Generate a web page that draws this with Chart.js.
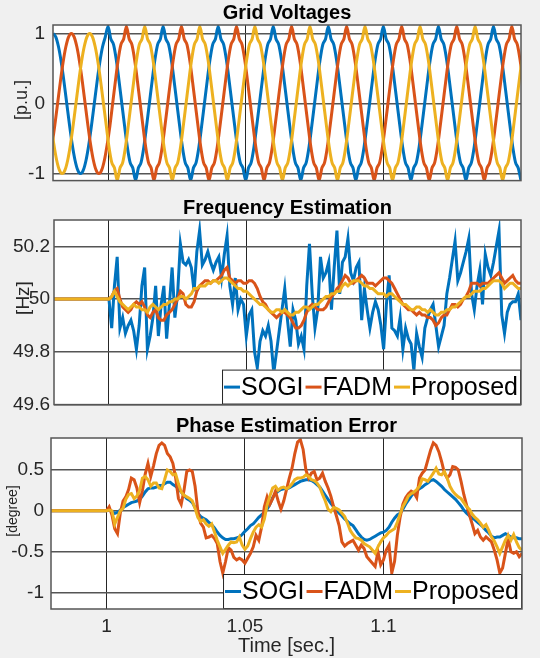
<!DOCTYPE html>
<html>
<head>
<meta charset="utf-8">
<script src="https://cdn.jsdelivr.net/npm/chart.js@4.4.1/dist/chart.umd.min.js"></script>
<style>
  body { margin: 0; background: #f0f0f0; width: 540px; height: 658px; overflow: hidden; position: relative; }
  canvas { position: absolute; left: 0; }
</style>
</head>
<body>
<canvas id="volt" width="540" height="200" style="top:0px"></canvas>
<canvas id="freq" width="540" height="225" style="top:195px"></canvas>
<canvas id="phase" width="540" height="248" style="top:410px"></canvas>
<script>
// ticks
const xTicks = [1, 1.05, 1.1];
const voltTicks = [-1, 0, 1];
const freqTicks = [49.6, 49.8, 50, 50.2];
const phaseTicks = [-1, -0.5, 0, 0.5];
const methods = ['SOGI', 'FADM', 'Proposed'];

// grid voltages, sampled every 1 ms, each phase has its own start time
const voltStep = 0.001;
const voltStartA = 0.98, voltStartB = 0.979667, voltStartC = 0.979333;
const voltA = [
  1, 0.951, 0.809, 0.588, 0.309, 0, -0.309, -0.588, -0.809, -0.951, -1, -0.951, -0.809, -0.588, -0.309, 0, 0.309, 0.588, 0.809, 0.951,
  1.1, 0.92, 0.84, 0.62, 0.32, 0, -0.32, -0.62, -0.84, -0.92, -1.1, -0.92, -0.84, -0.62, -0.32, 0, 0.32, 0.62, 0.84, 0.92,
  1.1, 0.92, 0.84, 0.62, 0.32, 0, -0.32, -0.62, -0.84, -0.92, -1.1, -0.92, -0.84, -0.62, -0.32, 0, 0.32, 0.62, 0.84, 0.92,
  1.1, 0.92, 0.84, 0.62, 0.32, 0, -0.32, -0.62, -0.84, -0.92, -1.1, -0.92, -0.84, -0.62, -0.32, 0, 0.32, 0.62, 0.84, 0.92,
  1.1, 0.92, 0.84, 0.62, 0.32, 0, -0.32, -0.62, -0.84, -0.92, -1.1, -0.92, -0.84, -0.62, -0.32, 0, 0.32, 0.62, 0.84, 0.92,
  1.1, 0.92, 0.84, 0.62, 0.32, 0, -0.32, -0.62, -0.84, -0.92, -1.1, -0.92, -0.84, -0.62, -0.32, 0, 0.32, 0.62, 0.84, 0.92,
  1.1, 0.92, 0.84, 0.62, 0.32, 0, -0.32, -0.62, -0.84, -0.92, -1.1, -0.92, -0.84, -0.62, -0.32, 0, 0.32, 0.62, 0.84, 0.92,
  1.1, 0.92, 0.84, 0.62, 0.32, 0, -0.32, -0.62, -0.84, -0.92, -1.1, -0.92, -0.84, -0.62, -0.32, 0, 0.32, 0.62, 0.84, 0.92,
  1.1, 0.92, 0.84, 0.62, 0.32, 0, -0.32, -0.62, -0.84, -0.92, -1.1
];
const voltB = [
  -0.588, -0.309, 0, 0.309, 0.588, 0.809, 0.951,
  1, 0.951, 0.809, 0.588, 0.309, 0, -0.309, -0.588, -0.809, -0.951, -1, -0.951, -0.809, -0.588,
  -0.32, 0, 0.32, 0.62, 0.84, 0.92,
  1.1, 0.92, 0.84, 0.62, 0.32, 0, -0.32, -0.62, -0.84, -0.92, -1.1, -0.92, -0.84, -0.62, -0.32, 0, 0.32, 0.62, 0.84, 0.92,
  1.1, 0.92, 0.84, 0.62, 0.32, 0, -0.32, -0.62, -0.84, -0.92, -1.1, -0.92, -0.84, -0.62, -0.32, 0, 0.32, 0.62, 0.84, 0.92,
  1.1, 0.92, 0.84, 0.62, 0.32, 0, -0.32, -0.62, -0.84, -0.92, -1.1, -0.92, -0.84, -0.62, -0.32, 0, 0.32, 0.62, 0.84, 0.92,
  1.1, 0.92, 0.84, 0.62, 0.32, 0, -0.32, -0.62, -0.84, -0.92, -1.1, -0.92, -0.84, -0.62, -0.32, 0, 0.32, 0.62, 0.84, 0.92,
  1.1, 0.92, 0.84, 0.62, 0.32, 0, -0.32, -0.62, -0.84, -0.92, -1.1, -0.92, -0.84, -0.62, -0.32, 0, 0.32, 0.62, 0.84, 0.92,
  1.1, 0.92, 0.84, 0.62, 0.32, 0, -0.32, -0.62, -0.84, -0.92, -1.1, -0.92, -0.84, -0.62, -0.32, 0, 0.32, 0.62, 0.84, 0.92,
  1.1, 0.92, 0.84, 0.62, 0.32, 0, -0.32, -0.62, -0.84, -0.92, -1.1, -0.92, -0.84, -0.62, -0.32, 0, 0.32, 0.62, 0.84, 0.92,
  1.1, 0.92, 0.84, 0.62, 0.32
];
const voltC = [
  -0.309, -0.588, -0.809, -0.951, -1, -0.951, -0.809, -0.588, -0.309, 0, 0.309, 0.588, 0.809, 0.951,
  1, 0.951, 0.809, 0.588, 0.309, 0, -0.309,
  -0.62, -0.84, -0.92, -1.1, -0.92, -0.84, -0.62, -0.32, 0, 0.32, 0.62, 0.84, 0.92,
  1.1, 0.92, 0.84, 0.62, 0.32, 0, -0.32, -0.62, -0.84, -0.92, -1.1, -0.92, -0.84, -0.62, -0.32, 0, 0.32, 0.62, 0.84, 0.92,
  1.1, 0.92, 0.84, 0.62, 0.32, 0, -0.32, -0.62, -0.84, -0.92, -1.1, -0.92, -0.84, -0.62, -0.32, 0, 0.32, 0.62, 0.84, 0.92,
  1.1, 0.92, 0.84, 0.62, 0.32, 0, -0.32, -0.62, -0.84, -0.92, -1.1, -0.92, -0.84, -0.62, -0.32, 0, 0.32, 0.62, 0.84, 0.92,
  1.1, 0.92, 0.84, 0.62, 0.32, 0, -0.32, -0.62, -0.84, -0.92, -1.1, -0.92, -0.84, -0.62, -0.32, 0, 0.32, 0.62, 0.84, 0.92,
  1.1, 0.92, 0.84, 0.62, 0.32, 0, -0.32, -0.62, -0.84, -0.92, -1.1, -0.92, -0.84, -0.62, -0.32, 0, 0.32, 0.62, 0.84, 0.92,
  1.1, 0.92, 0.84, 0.62, 0.32, 0, -0.32, -0.62, -0.84, -0.92, -1.1, -0.92, -0.84, -0.62, -0.32, 0, 0.32, 0.62, 0.84, 0.92,
  1.1, 0.92, 0.84, 0.62, 0.32, 0, -0.32, -0.62, -0.84, -0.92, -1.1, -0.92, -0.84, -0.62, -0.32, 0, 0.32, 0.62
];

// estimators: 1 ms samples from t = 1 s, held flat before that
const holdStart = 0.98, estStart = 1.0, estStep = 0.001;
const freqSOGI = [
  50.00, 49.89, 50.05, 50.16, 49.89, 49.93, 49.87, 49.90, 49.92, 49.88,
  49.81, 49.90, 50.05, 50.12, 49.81, 49.86, 49.93, 50.05, 49.86, 49.98,
  50.05, 49.85, 49.98, 50.12, 49.93, 50.02, 50.21, 50.14, 50.13, 50.15,
  50.12, 50.03, 50.18, 50.26, 50.13, 50.15, 50.18, 50.14, 50.11, 50.14,
  50.16, 50.08, 50.17, 50.24, 50.05, 49.98, 50.08, 49.96, 50.00, 49.98,
  49.86, 49.94, 49.96, 49.80, 49.74, 49.84, 49.88, 49.86, 49.90, 49.84,
  49.72, 49.80, 49.88, 49.96, 50.04, 49.92, 49.82, 49.96, 49.92, 49.83,
  49.86, 49.81, 50.05, 50.21, 50.02, 49.89, 49.96, 50.16, 50.08, 50.10,
  50.14, 49.96, 50.12, 50.26, 50.02, 50.14, 50.16, 50.23, 50.10, 50.07,
  50.12, 50.14, 49.92, 50.04, 49.96, 49.89, 49.95, 49.99, 49.96, 49.90,
  49.81, 49.98, 50.09, 49.89, 49.88, 49.86, 49.93, 49.81, 49.89, 49.85,
  49.83, 49.73, 49.87, 49.82, 49.78, 49.89, 49.93, 49.96, 49.98, 49.90,
  49.82, 49.86, 49.90, 50.02, 50.08, 50.15, 50.22, 50.07, 50.10, 50.14,
  50.18, 50.23, 50.02, 49.96, 50.05, 50.11, 49.98, 50.17, 50.12, 50.09,
  50.14, 50.20, 50.26, 49.94, 49.87, 49.95, 49.98, 49.99, 49.99, 50.02,
  49.92
];
const freqFADM = [
  50.00, 50.01, 50.03, 50.04, 50.00, 49.97, 49.96, 49.95, 49.96, 49.98,
  49.99, 49.98, 49.99, 49.97, 49.94, 49.93, 49.95, 49.96, 49.93, 49.92,
  49.92, 49.94, 49.95, 49.96, 49.98, 50.00, 50.03, 50.02, 49.98, 49.97,
  49.97, 49.99, 50.03, 50.05, 50.06, 50.07, 50.07, 50.06, 50.07, 50.07,
  50.08, 50.09, 50.11, 50.12, 50.08, 50.07, 50.06, 50.07, 50.07, 50.06,
  50.06, 50.07, 50.07, 50.06, 50.04, 50.01, 49.99, 49.98, 49.96, 49.95,
  49.94, 49.93, 49.94, 49.95, 49.95, 49.94, 49.93, 49.91, 49.89, 49.89,
  49.90, 49.92, 49.95, 49.97, 49.98, 49.97, 49.96, 49.96, 49.96, 49.97,
  49.99, 50.01, 50.02, 50.04, 50.05, 50.07, 50.09, 50.08, 50.06, 50.06,
  50.07, 50.08, 50.09, 50.08, 50.06, 50.06, 50.06, 50.05, 50.06, 50.07,
  50.08, 50.08, 50.07, 50.06, 50.04, 50.02, 50.00, 49.98, 49.97, 49.96,
  49.96, 49.95, 49.94, 49.95, 49.94, 49.94, 49.93, 49.93, 49.92, 49.90,
  49.91, 49.93, 49.94, 49.94, 49.96, 49.98, 49.98, 49.97, 49.98, 50.00,
  50.01, 50.03, 50.06, 50.06, 50.06, 50.05, 50.06, 50.06, 50.06, 50.07,
  50.08, 50.09, 50.10, 50.08, 50.06, 50.07, 50.08, 50.09, 50.07, 50.06,
  50.06
];
const freqProp = [
  50.00, 50.01, 50.03, 50.01, 49.99, 49.98, 49.97, 49.96, 49.97, 49.98,
  49.97, 49.97, 49.96, 49.96, 49.95, 49.97, 49.98, 49.97, 49.96, 49.97,
  49.98, 49.98, 49.99, 49.99, 50.00, 50.00, 50.01, 50.01, 50.00, 50.01,
  50.02, 50.04, 50.04, 50.05, 50.05, 50.05, 50.06, 50.06, 50.07, 50.07,
  50.06, 50.07, 50.08, 50.08, 50.07, 50.06, 50.05, 50.04, 50.04, 50.03,
  50.03, 50.02, 50.01, 50.00, 49.99, 49.98, 49.98, 49.97, 49.96, 49.95,
  49.95, 49.96, 49.96, 49.95, 49.96, 49.95, 49.94, 49.94, 49.95, 49.95,
  49.96, 49.97, 49.97, 49.96, 49.97, 49.98, 49.98, 49.99, 50.00, 50.01,
  50.01, 50.02, 50.02, 50.03, 50.03, 50.05, 50.06, 50.05, 50.06, 50.07,
  50.07, 50.07, 50.06, 50.05, 50.05, 50.04, 50.04, 50.03, 50.02, 50.02,
  50.02, 50.01, 50.02, 50.02, 50.01, 50.00, 49.99, 49.98, 49.98, 49.97,
  49.96, 49.96, 49.97, 49.97, 49.96, 49.96, 49.95, 49.96, 49.95, 49.94,
  49.94, 49.95, 49.95, 49.96, 49.96, 49.97, 49.97, 49.98, 49.99, 50.00,
  50.01, 50.01, 50.02, 50.03, 50.03, 50.03, 50.04, 50.04, 50.05, 50.06,
  50.07, 50.07, 50.07, 50.06, 50.04, 50.05, 50.06, 50.06, 50.05, 50.04,
  50.04
];
const phaseSOGI = [
  0, 0.01, -0.01, -0.03, -0.02, 0.01, 0.04, 0.06, 0.08, 0.10,
  0.11, 0.12, 0.14, 0.18, 0.23, 0.27, 0.28, 0.28, 0.29, 0.31,
  0.31, 0.33, 0.35, 0.35, 0.32, 0.30, 0.27, 0.23, 0.19, 0.15,
  0.13, 0.10, 0.04, -0.03, -0.07, -0.09, -0.11, -0.14, -0.17, -0.21,
  -0.26, -0.30, -0.33, -0.35, -0.35, -0.34, -0.34, -0.33, -0.32, -0.29,
  -0.25, -0.22, -0.18, -0.16, -0.12, -0.08, -0.05, -0.02, 0.02, 0.08,
  0.16, 0.21, 0.24, 0.26, 0.27, 0.27, 0.28, 0.30, 0.32, 0.34,
  0.36, 0.37, 0.38, 0.38, 0.37, 0.35, 0.32, 0.29, 0.24, 0.19,
  0.14, 0.09, 0.05, 0.01, -0.03, -0.06, -0.10, -0.13, -0.16, -0.18,
  -0.23, -0.28, -0.32, -0.35, -0.36, -0.35, -0.33, -0.31, -0.29, -0.27,
  -0.26, -0.24, -0.20, -0.14, -0.09, -0.05, -0.03, 0.02, 0.08, 0.13,
  0.18, 0.22, 0.25, 0.27, 0.29, 0.32, 0.34, 0.37, 0.38, 0.36,
  0.33, 0.30, 0.26, 0.23, 0.20, 0.17, 0.14, 0.10, 0.06, 0.01,
  -0.03, -0.06, -0.09, -0.11, -0.14, -0.17, -0.20, -0.24, -0.27, -0.31,
  -0.33, -0.32, -0.32, -0.30, -0.28, -0.30, -0.32, -0.33, -0.33, -0.34,
  -0.34
];
const phaseFADM = [
  0, 0.05, -0.05, -0.22, -0.28, -0.03, 0.12, 0.17, 0.26, 0.40,
  0.38, 0.28, 0.10, 0.25, 0.45, 0.58, 0.42, 0.55, 0.70, 0.80,
  0.83, 0.80, 0.70, 0.66, 0.58, 0.40, 0.15, 0.08, 0.25, 0.48,
  0.50, 0.48, 0.30, 0.00, -0.15, -0.20, -0.33, -0.32, -0.30, -0.34,
  -0.40, -0.62, -0.76, -0.62, -0.45, -0.48, -0.57, -0.60, -0.58, -0.60,
  -0.64, -0.58, -0.52, -0.44, -0.30, -0.36, -0.20, 0.05, 0.17, 0.08,
  0.15, 0.24, 0.12, 0.02, 0.12, 0.26, 0.40, 0.52, 0.70, 0.84,
  0.87, 0.75, 0.50, 0.40, 0.46, 0.48, 0.38, 0.40, 0.46, 0.36,
  0.28, 0.18, 0.05, -0.06, -0.18, -0.38, -0.43, -0.40, -0.38, -0.36,
  -0.42, -0.48, -0.42, -0.46, -0.56, -0.60, -0.64, -0.68, -0.50, -0.66,
  -0.60, -0.48, -0.42, -0.76, -0.62, -0.30, -0.08, 0.08, 0.16, 0.21,
  0.24, 0.22, 0.16, 0.40, 0.46, 0.50, 0.62, 0.74, 0.83, 0.80,
  0.72, 0.60, 0.46, 0.40, 0.44, 0.54, 0.53, 0.50, 0.36, 0.20,
  0.07, -0.05, -0.16, -0.28, -0.24, -0.32, -0.36, -0.32, -0.35, -0.38,
  -0.48, -0.60, -0.76, -0.70, -0.52, -0.34, -0.50, -0.52, -0.50, -0.56,
  -0.52
];
const phaseProp = [
  0, 0.01, 0.00, -0.16, -0.08, 0.00, 0.03, 0.14, 0.20, 0.21,
  0.15, 0.18, 0.25, 0.40, 0.42, 0.38, 0.30, 0.34, 0.34, 0.28,
  0.27, 0.38, 0.50, 0.48, 0.44, 0.45, 0.33, 0.23, 0.19, 0.17,
  0.15, 0.12, 0.03, -0.08, -0.13, -0.11, -0.16, -0.19, -0.16, -0.26,
  -0.36, -0.44, -0.52, -0.47, -0.42, -0.38, -0.39, -0.38, -0.32, -0.42,
  -0.47, -0.43, -0.34, -0.26, -0.20, -0.17, -0.20, -0.10, 0.07, 0.18,
  0.28, 0.30, 0.25, 0.28, 0.29, 0.27, 0.29, 0.33, 0.38, 0.40,
  0.40, 0.41, 0.44, 0.42, 0.38, 0.37, 0.34, 0.29, 0.20, 0.12,
  0.02, -0.01, 0.04, 0.03, 0.01, -0.03, -0.07, -0.15, -0.24, -0.29,
  -0.33, -0.34, -0.36, -0.40, -0.42, -0.44, -0.48, -0.52, -0.44, -0.38,
  -0.33, -0.30, -0.26, -0.24, -0.22, -0.14, -0.04, 0.05, 0.11, 0.18,
  0.21, 0.23, 0.26, 0.30, 0.39, 0.38, 0.36, 0.41, 0.46, 0.52,
  0.45, 0.44, 0.48, 0.40, 0.30, 0.24, 0.20, 0.17, 0.15, 0.10,
  0.05, 0.02, -0.04, -0.08, -0.11, -0.15, -0.20, -0.17, -0.24, -0.32,
  -0.37, -0.44, -0.52, -0.44, -0.36, -0.30, -0.36, -0.29, -0.38, -0.45,
  -0.48
];

Chart.defaults.font.family = '"Liberation Sans", Arial, sans-serif';
Chart.defaults.color = '#262626';
const colors = ['#0072BD', '#D95319', '#EDB120'];

function pts(values, start, step) {
  return values.map((v, i) => ({x: start + i * step, y: v}));
}
function held(values) {
  return [{x: holdStart, y: values[0]}].concat(pts(values, estStart, estStep));
}
function line(label, data, i, smooth) {
  return {
    label: label, data: data, borderColor: colors[i], backgroundColor: colors[i],
    borderWidth: 3, pointRadius: 0, fill: false, clip: 0, order: 2 - i,
    tension: smooth ? 0.4 : 0, cubicInterpolationMode: smooth ? 'monotone' : 'default'
  };
}

// white axes box, frame, rotated y label and the in-plot legend
const frame = {
  id: 'frame',
  beforeDraw(chart) {
    const {ctx, chartArea: a} = chart;
    ctx.save();
    ctx.fillStyle = '#fff';
    ctx.fillRect(a.left, a.top, a.right - a.left, a.bottom - a.top);
    ctx.restore();
  },
  afterDraw(chart, args, o) {
    const {ctx, chartArea: a} = chart;
    ctx.save();
    if (o.legend) {
      ctx.font = '25px "Liberation Sans", Arial, sans-serif';
      const items = chart.data.datasets.map(d => ({label: d.label, color: d.borderColor, w: ctx.measureText(d.label).width}));
      const dash = 16, gap = 1, sep = 2, padL = 2, padR = 3, h = 35;
      const w = padL + padR + items.reduce((s, it) => s + dash + gap + it.w, 0) + sep * (items.length - 1);
      const x0 = a.right - w, y0 = a.bottom - h;
      ctx.fillStyle = '#fff';
      ctx.fillRect(x0, y0, w, h);
      ctx.strokeStyle = '#262626';
      ctx.lineWidth = 1;
      ctx.strokeRect(x0 + 0.5, y0 + 0.5, w - 1, h - 1);
      let x = x0 + padL;
      const yc = y0 + h / 2;
      ctx.textBaseline = 'middle';
      items.forEach(it => {
        ctx.strokeStyle = it.color;
        ctx.lineWidth = 3;
        ctx.beginPath();
        ctx.moveTo(x, yc);
        ctx.lineTo(x + dash, yc);
        ctx.stroke();
        x += dash + gap;
        ctx.fillStyle = '#000';
        ctx.fillText(it.label, x, yc + 1);
        x += it.w + sep;
      });
    }
    ctx.strokeStyle = '#555';
    ctx.lineWidth = 1.5;
    ctx.strokeRect(a.left, a.top, a.right - a.left, a.bottom - a.top);
    ctx.translate(o.yTitleX, o.yTitleY);
    ctx.rotate(-Math.PI / 2);
    ctx.font = o.yTitleSize + 'px "Liberation Sans", Arial, sans-serif';
    ctx.fillStyle = '#262626';
    ctx.textAlign = 'center';
    ctx.textBaseline = 'middle';
    ctx.fillText(o.yTitle, 0, 0);
    ctx.restore();
  }
};

function panel(id, o) {
  return new Chart(document.getElementById(id), {
    type: 'line',
    data: {datasets: o.datasets},
    options: {
      responsive: false, animation: false, events: [], devicePixelRatio: 1,
      layout: {padding: {left: 0, right: o.right, top: 0, bottom: o.bottom}},
      plugins: {
        legend: {display: false},
        tooltip: {enabled: false},
        title: {display: true, text: o.title, fullSize: false, color: '#000',
          font: {size: 20, weight: 'bold'}, padding: {top: o.titleTop, bottom: 0}},
        frame: {yTitle: o.yTitle, yTitleX: o.yTitleX, yTitleY: o.yTitleY, yTitleSize: o.yTitleSize, legend: o.legend}
      },
      scales: {
        x: {
          type: 'linear', min: 0.98, max: 1.15,
          afterBuildTicks: s => { s.ticks = xTicks.map(v => ({value: v})); },
          afterFit: s => { s.height = o.xHeight; },
          ticks: {display: o.xLabels, padding: 6, maxRotation: 0, autoSkip: false, font: {size: 19}, callback: v => String(v)},
          grid: {color: '#262626', lineWidth: 1, drawTicks: false},
          border: {display: false},
          title: {display: o.xLabels, text: 'Time [sec.]', font: {size: 20}, padding: 0}
        },
        y: {
          type: 'linear', min: o.yMin, max: o.yMax,
          afterBuildTicks: s => { s.ticks = o.yTicks.map(v => ({value: v})); },
          afterFit: s => { s.width = o.left; },
          ticks: {padding: o.yPad, autoSkip: false, font: {size: 19}, callback: v => String(v)},
          grid: {color: '#555', lineWidth: 1.5, drawTicks: false},
          border: {display: false}
        }
      }
    },
    plugins: [frame]
  });
}

panel('volt', {
  datasets: [
    line('Phase a', pts(voltA, voltStartA, voltStep), 0, true),
    line('Phase b', pts(voltB, voltStartB, voltStep), 1, true),
    line('Phase c', pts(voltC, voltStartC, voltStep), 2, true)
  ],
  title: 'Grid Voltages', titleTop: 1, right: 19, bottom: 3, xHeight: 0, xLabels: false,
  yMin: -1.1, yMax: 1.12, yTicks: voltTicks, left: 53, yPad: 8,
  yTitle: '[p.u.]', yTitleX: 22, yTitleY: 100, yTitleSize: 18, legend: false
});

panel('freq', {
  datasets: [
    line(methods[0], held(freqSOGI), 0, false),
    line(methods[1], held(freqFADM), 1, false),
    line(methods[2], held(freqProp), 2, false)
  ],
  title: 'Frequency Estimation', titleTop: 1, right: 19, bottom: 13, xHeight: 0, xLabels: false,
  yMin: 49.6, yMax: 50.3, yTicks: freqTicks, left: 54, yPad: 4,
  yTitle: '[Hz]', yTitleX: 24, yTitleY: 103, yTitleSize: 19, legend: true
});

panel('phase', {
  datasets: [
    line(methods[0], held(phaseSOGI), 0, false),
    line(methods[1], held(phaseFADM), 1, false),
    line(methods[2], held(phaseProp), 2, false)
  ],
  title: 'Phase Estimation Error', titleTop: 4, right: 18, bottom: 0, xHeight: 49, xLabels: true,
  yMin: -1.2, yMax: 0.89, yTicks: phaseTicks, left: 51, yPad: 7,
  yTitle: '[degree]', yTitleX: 13.5, yTitleY: 101, yTitleSize: 14, legend: true
});
</script>
</body>
</html>
